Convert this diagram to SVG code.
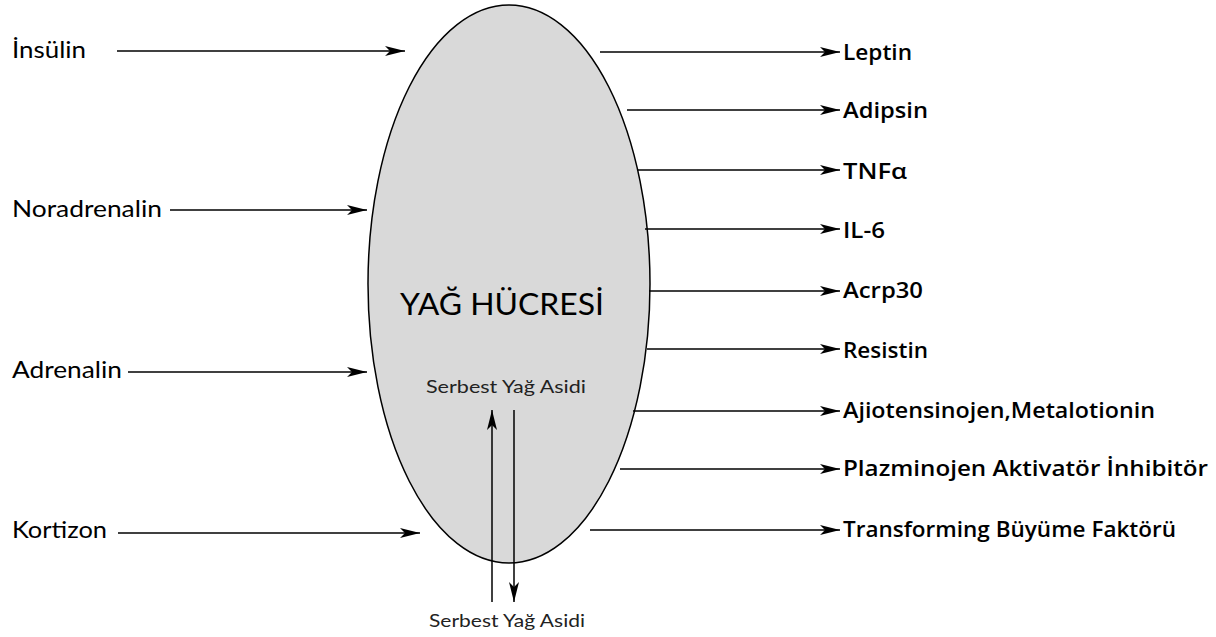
<svg xmlns="http://www.w3.org/2000/svg" width="1216" height="637" viewBox="0 0 1216 637">
<style>
.in{font-family:Lato,"Noto Sans",sans-serif;font-size:24px;fill:#000}
.out{font-family:"Open Sans","Noto Sans",sans-serif;font-size:22px;font-weight:600;fill:#000}
.sm{font-family:Lato,"Noto Sans",sans-serif;font-size:18px;fill:#222}
.ln{stroke:#000;stroke-width:1.5;fill:none}
</style>
<defs>
<marker id="ah" viewBox="0 0 20 10" refX="20" refY="5" markerWidth="20" markerHeight="10" markerUnits="userSpaceOnUse" orient="auto">
<path d="M0,0 L20,5 L0,10 L5,5 Z" fill="#000"/>
</marker>
</defs>
<g id="cell">
<ellipse cx="509" cy="284" rx="141" ry="279" fill="#d9d9d9" stroke="#000" stroke-width="1.5"/>
<text x="400" y="315" textLength="204" lengthAdjust="spacingAndGlyphs" style="font-family:Lato,'Noto Sans',sans-serif;font-size:30px">YAĞ HÜCRESİ</text>
<text x="426" y="393" textLength="160" lengthAdjust="spacingAndGlyphs" class="sm">Serbest Yağ Asidi</text>
</g>
<g id="inputs">
<text x="12" y="58" textLength="74" lengthAdjust="spacingAndGlyphs" class="in">İnsülin</text>
<text x="12" y="217" textLength="150" lengthAdjust="spacingAndGlyphs" class="in">Noradrenalin</text>
<text x="12" y="378" textLength="110" lengthAdjust="spacingAndGlyphs" class="in">Adrenalin</text>
<text x="12" y="538" textLength="95" lengthAdjust="spacingAndGlyphs" class="in">Kortizon</text>
</g>
<g id="outputs">
<text x="843" y="60" textLength="69" lengthAdjust="spacingAndGlyphs" class="out">Leptin</text>
<text x="843" y="118" textLength="85" lengthAdjust="spacingAndGlyphs" class="out">Adipsin</text>
<text x="843" y="179" textLength="64" lengthAdjust="spacingAndGlyphs" class="out">TNFα</text>
<text x="843" y="238" textLength="42" lengthAdjust="spacingAndGlyphs" class="out">IL-6</text>
<text x="843" y="298" textLength="80" lengthAdjust="spacingAndGlyphs" class="out">Acrp30</text>
<text x="843" y="358" textLength="85" lengthAdjust="spacingAndGlyphs" class="out">Resistin</text>
<text x="843" y="418" textLength="312" lengthAdjust="spacingAndGlyphs" class="out">Ajiotensinojen,Metalotionin</text>
<text x="843" y="476" textLength="365" lengthAdjust="spacingAndGlyphs" class="out">Plazminojen Aktivatör İnhibitör</text>
<text x="843" y="537" textLength="333" lengthAdjust="spacingAndGlyphs" class="out">Transforming Büyüme Faktörü</text>
</g>
<g id="bottom">
<text x="429" y="627" textLength="156" lengthAdjust="spacingAndGlyphs" class="sm">Serbest Yağ Asidi</text>
</g>
<g id="connectors">
<line x1="117" y1="51" x2="405" y2="51" class="ln" marker-end="url(#ah)"/>
<line x1="170" y1="210" x2="367" y2="210" class="ln" marker-end="url(#ah)"/>
<line x1="128" y1="372" x2="367" y2="372" class="ln" marker-end="url(#ah)"/>
<line x1="118" y1="533" x2="420" y2="533" class="ln" marker-end="url(#ah)"/>
<line x1="600" y1="52" x2="840" y2="52" class="ln" marker-end="url(#ah)"/>
<line x1="627" y1="110" x2="840" y2="110" class="ln" marker-end="url(#ah)"/>
<line x1="638" y1="170" x2="840" y2="170" class="ln" marker-end="url(#ah)"/>
<line x1="645" y1="229" x2="840" y2="229" class="ln" marker-end="url(#ah)"/>
<line x1="649" y1="291" x2="840" y2="291" class="ln" marker-end="url(#ah)"/>
<line x1="647" y1="349" x2="840" y2="349" class="ln" marker-end="url(#ah)"/>
<line x1="633" y1="411" x2="840" y2="411" class="ln" marker-end="url(#ah)"/>
<line x1="620" y1="469" x2="840" y2="469" class="ln" marker-end="url(#ah)"/>
<line x1="590" y1="530" x2="840" y2="530" class="ln" marker-end="url(#ah)"/>
<line x1="492" y1="602" x2="492" y2="410" class="ln" marker-end="url(#ah)"/>
<line x1="514" y1="410" x2="514" y2="602" class="ln" marker-end="url(#ah)"/>
</g>
</svg>
